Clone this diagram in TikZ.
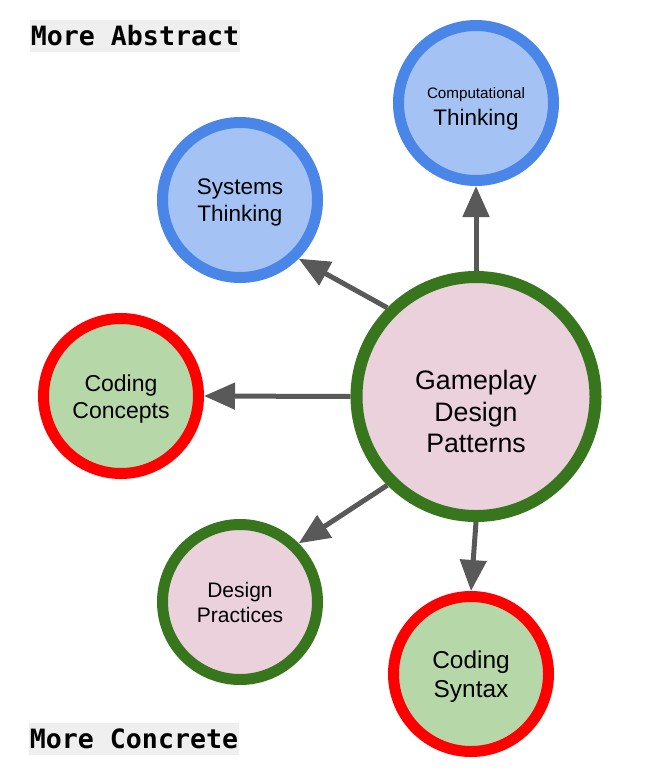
\documentclass[tikz,border=0pt]{standalone}
\usepackage{fontspec}
\setmainfont{Liberation Sans}
\setmonofont{DejaVu Sans Mono}
\usetikzlibrary{arrows.meta}
\definecolor{blueline}{HTML}{4A86E8}
\definecolor{bluefill}{HTML}{A4C2F4}
\definecolor{redline}{HTML}{FF0000}
\definecolor{greenfill}{HTML}{B6D7A8}
\definecolor{greenline}{HTML}{38761D}
\definecolor{pinkfill}{HTML}{EAD1DC}
\definecolor{edgecol}{HTML}{595959}
\definecolor{tagfill}{HTML}{EFEFEF}
\newcommand{\fsz}[2]{\fontsize{#1}{#2}\selectfont}
\newcommand{\lift}[1]{\rule{0pt}{#1pt}}

\begin{document}
\begin{tikzpicture}[x=1pt, y=1pt,
  topic/.style={circle, line width=11pt, minimum size=155pt, inner sep=0pt, align=center},
  abstr/.style={topic, draw=blueline, fill=bluefill},
  coding/.style={topic, draw=redline, fill=greenfill},
  design/.style={topic, draw=greenline, fill=pinkfill},
  tag/.style={fill=tagfill, inner sep=0pt, minimum width=210pt, minimum height=32pt,
              font=\ttfamily\bfseries\fsz{26.6}{30}},
  ar/.style={-{Triangle[length=31pt, width=26pt]}, line width=5pt, draw=edgecol},
]
  \useasboundingbox (0,0) rectangle (650,-770);

  \node[tag] (abstract) at (135,-36) {More Abstract};
  \node[tag] (concrete) at (134,-739) {More Concrete};

  \node[design, line width=12pt, minimum size=239pt,
        label={[name=gdptext, align=center, yshift=-15pt, font=\fsz{26.7}{31.5}]center:Gameplay\\Design\\Patterns}]
        (gdp) at (476,-396.5) {};
  \node[abstr, font=\fsz{22.5}{27}] (comp) at (476,-103)
        {\lift{23}{\fsz{15.2}{18}Computational}\\Thinking};
  \node[abstr, font=\fsz{22.5}{27}] (sys) at (240,-200) {\lift{21.5}Systems\\Thinking};
  \node[coding, font=\fsz{23}{26.5}] (conc) at (121,-396) {\lift{23}Coding\\Concepts};
  \node[design, font=\fsz{21}{25}] (prac) at (240,-602) {Design\\Practices};
  \node[coding, font=\fsz{24.4}{29}] (synt) at (471,-674) {\lift{23}Coding\\Syntax};

  \draw[ar] (gdp.north) -- (comp.south);
  \draw[ar] (gdp.135) -- (sys.-45);
  \draw[ar] (gdp.west) -- (conc.east);
  \draw[ar] (gdp.225) -- (prac.45);
  \draw[ar] (gdp.south) -- (synt.north);
\end{tikzpicture}
\end{document}
